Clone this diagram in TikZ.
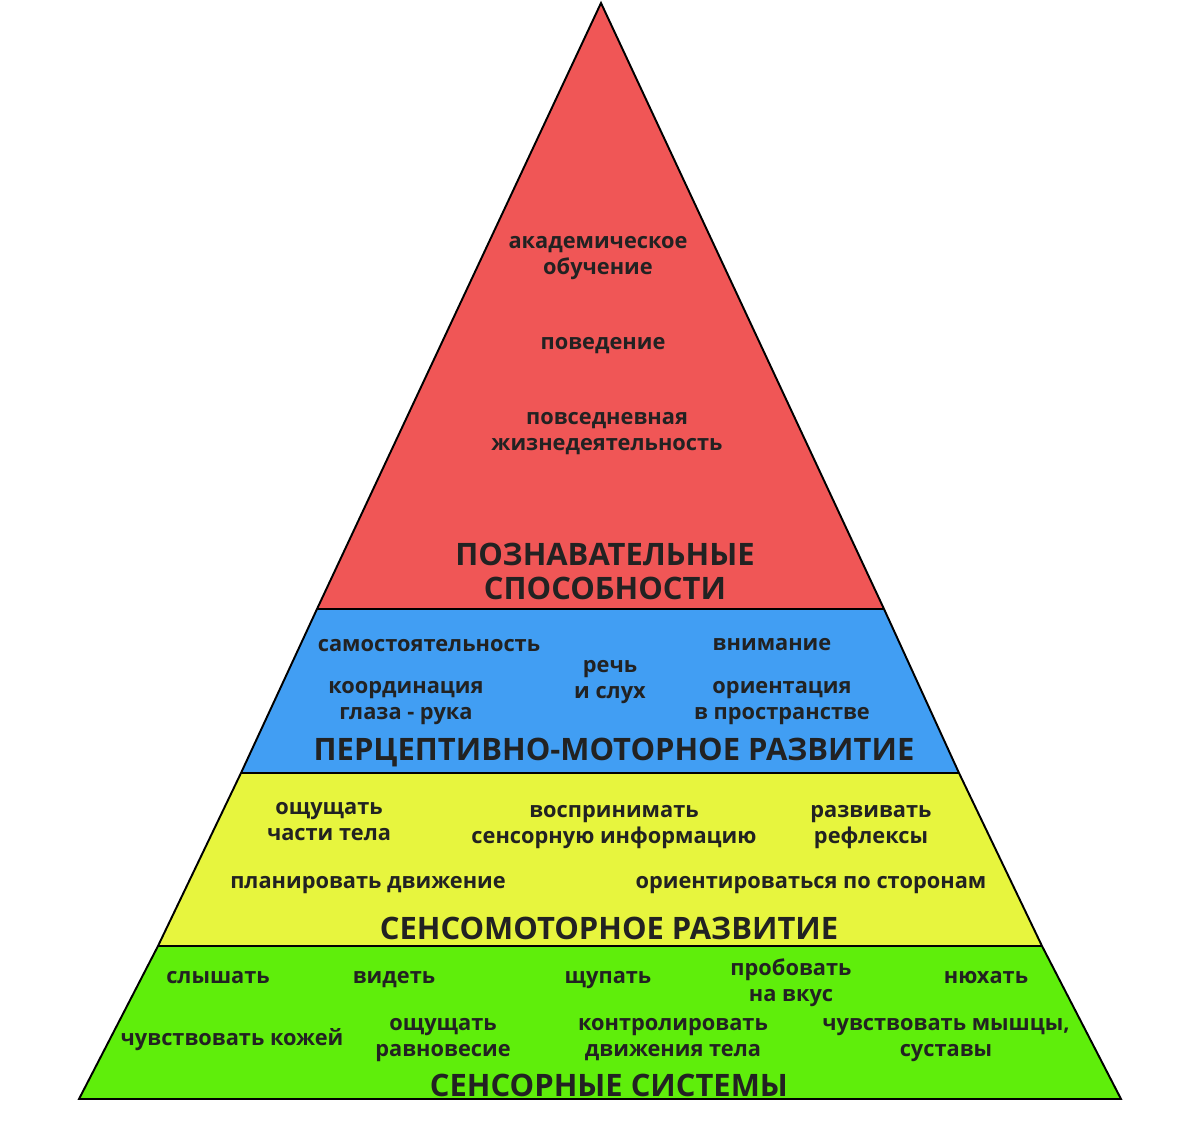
\documentclass[tikz,border=0pt]{standalone}
\usepackage{fontspec}
\setmainfont{Open Sans}
\usepackage{tikz}
\usetikzlibrary{calc,positioning}
\definecolor{pyr-red}{HTML}{F05656}
\definecolor{pyr-blue}{HTML}{419EF3}
\definecolor{pyr-yellow}{HTML}{E7F53E}
\definecolor{pyr-green}{HTML}{5FEE0B}
\definecolor{pyr-text}{HTML}{222222}

\begin{document}
\begin{tikzpicture}[
    x=0.02cm, y=-0.02cm,
    font=\bfseries
  ]

  % Styles for the pyramid texts
  \tikzset{
    item/.style={text=pyr-text, align=center, inner sep=0pt, yshift=-2.8pt, font=\fontsize{12.4}{14.8}\selectfont\bfseries},
    title/.style={text=pyr-text, align=center, inner sep=0pt, yshift=-1.3pt, font=\fontsize{17.6}{19.4}\selectfont\bfseries},
    edge/.style={draw=black, line width=1.1pt, line join=miter}
  }

  \useasboundingbox (0,0) rectangle (1200,1133);

  % Corners of the pyramid and the layer borders
  \coordinate (apex) at (601,3);
  \coordinate (l1) at (317,609);
  \coordinate (r1) at (884,609);
  \coordinate (l2) at (241,773);
  \coordinate (r2) at (959,773);
  \coordinate (l3) at (158,946);
  \coordinate (r3) at (1042,946);
  \coordinate (bl) at (79,1099);
  \coordinate (br) at (1121,1099);

  % Layer fills
  \fill[pyr-red]    (apex) -- (l1) -- (r1) -- cycle;
  \fill[pyr-blue]   (l1) -- (l2) -- (r2) -- (r1) -- cycle;
  \fill[pyr-yellow] (l2) -- (l3) -- (r3) -- (r2) -- cycle;
  \fill[pyr-green]  (l3) -- (bl) -- (br) -- (r3) -- cycle;

  % Layer borders
  \draw[edge] (l1) -- (r1);
  \draw[edge] (l2) -- (r2);
  \draw[edge] (l3) -- (r3);
  \draw[edge] (apex) -- (l1) -- (l2) -- (l3) -- (bl) -- (br) -- (r3) -- (r2) -- (r1) -- cycle;

  % Cognitive layer
  \node (academic) [item] at (598,253) {академическое\\обучение};
  \node (behaviour) [item] at (603,341) {поведение};
  \node (daily) [item] at (607,429) {повседневная\\жизнедеятельность};
  \node (cognTitle) [title] at (605,569) {ПОЗНАВАТЕЛЬНЫЕ\\СПОСОБНОСТИ};

  % Perceptual-motor layer
  \node (independence) [item] at (429,641) {самостоятельность};
  \node (attention) [item] at (772,640) {внимание};
  \node (speech) [item] at (610,677) {речь\\и слух};
  \node (eyehand) [item] at (406,698) {координация\\глаза - рука};
  \node (orient) [item] at (782,698) {ориентация\\в пространстве};
  \node (percTitle) [title] at (614,750) {ПЕРЦЕПТИВНО-МОТОРНОЕ РАЗВИТИЕ};

  % Sensorimotor layer
  \node (bodyparts) [item] at (329,817) {ощущать\\части тела};
  \node (perceive) [item] at (614,822) {воспринимать\\сенсорную информацию};
  \node (reflexes) [item] at (871,822) {развивать\\рефлексы};
  \node (plan) [item] at (368,880) {планировать движение};
  \node (sides) [item] at (811,880) {ориентироваться по сторонам};
  \node (sensmTitle) [title] at (609,926) {СЕНСОМОТОРНОЕ РАЗВИТИЕ};

  % Sensory systems layer
  \node (hear) [item] at (218,973) {слышать};
  \node (see) [item] at (394,975) {видеть};
  \node (touch) [item] at (608,975) {щупать};
  \node (taste) [item] at (791,978) {пробовать\\на вкус};
  \node (smell) [item] at (986,973) {нюхать};
  \node (skin) [item] at (232,1035) {чувствовать кожей};
  \node (balance) [item] at (443,1035) {ощущать\\равновесие};
  \node (control) [item] at (673,1035) {контролировать\\движения тела};
  \node (muscles) [item] at (946,1035) {чувствовать мышцы,\\суставы};
  \node (sensTitle) [title] at (609,1083) {СЕНСОРНЫЕ СИСТЕМЫ};

\end{tikzpicture}
\end{document}
